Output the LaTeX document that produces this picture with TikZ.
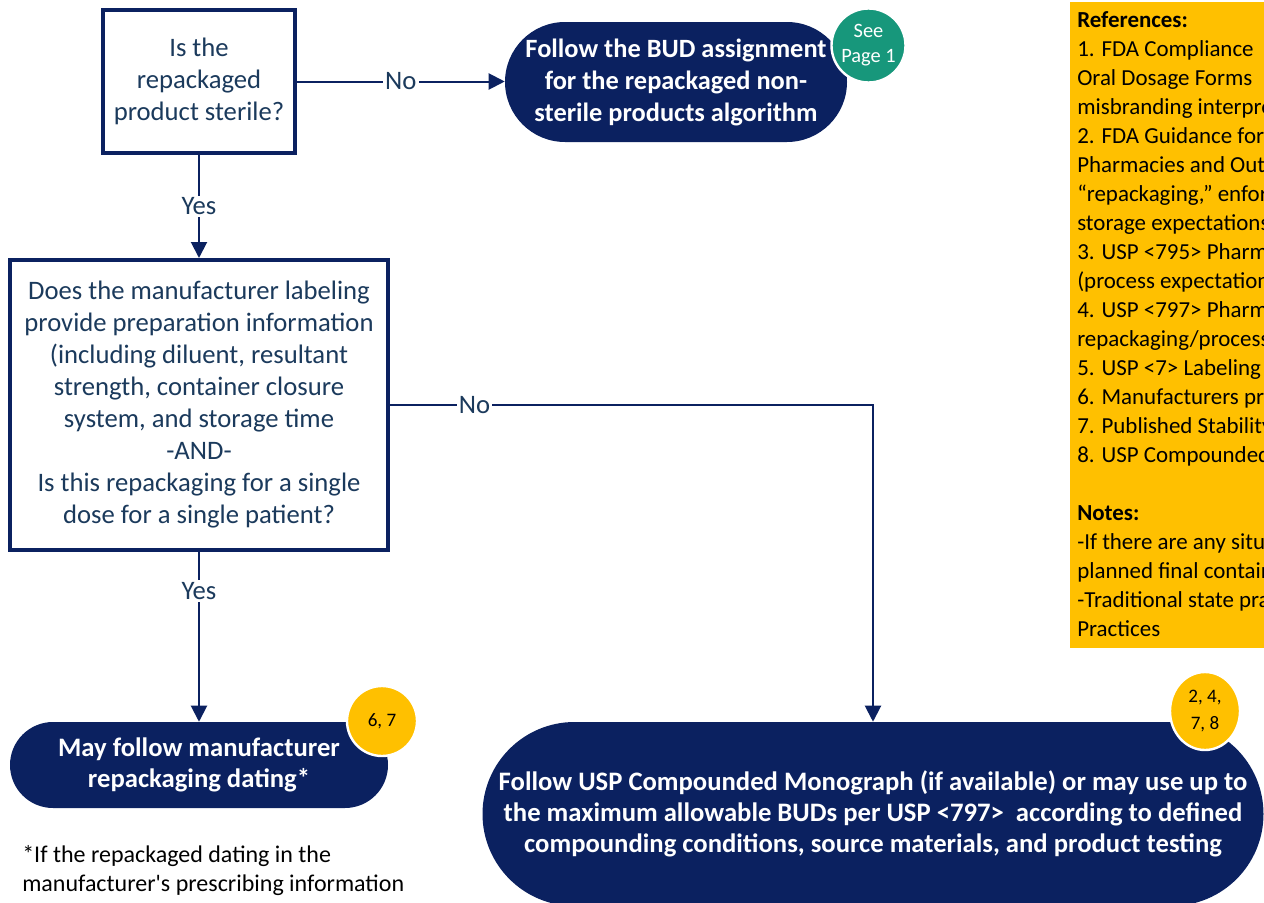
\documentclass[tikz,border=0pt]{standalone}
\usepackage{fontspec}
\setmainfont{Carlito}
\usetikzlibrary{arrows.meta,shapes.geometric}
\definecolor{navy}{HTML}{0B2160}
\definecolor{qtext}{HTML}{1B3A5C}
\definecolor{seegreen}{HTML}{17977B}
\definecolor{refyellow}{HTML}{FFC000}
\tikzset{
  question/.style={draw=navy, line width=3pt, fill=white, text=qtext, align=center, inner sep=0pt,
    font=\fontsize{20pt}{24pt}\selectfont},
  term/.style={fill=navy, text=white, align=center, inner sep=0pt},
  badge/.style={circle, draw=white, line width=1.8pt, inner sep=0pt, align=center},
  conn/.style={draw=navy, line width=1.5pt, -{Triangle[width=12pt,length=12pt]}},
  lbl/.style={fill=white, text=qtext, inner sep=1.5pt, font=\fontsize{20pt}{22pt}\selectfont}
}
\begin{document}
\begin{tikzpicture}[x=0.75pt,y=-0.75pt]
\useasboundingbox (0,0) rectangle (1264,903);
\clip (0,0) rectangle (1264,903);

% references panel
\fill[refyellow] (1070,2) rectangle (1270,648);
\node[anchor=north west, inner sep=0pt, align=left, text=black,
      font=\fontsize{17.2pt}{21.75pt}\selectfont] (refs) at (1077,11)
 {\textbf{References:}\\
  1. FDA Compliance\\
  Oral Dosage Forms\\
  misbranding interpretation\\
  2. FDA Guidance for\\
  Pharmacies and Outsourcing\\
  “repackaging,” enforcement\\
  storage expectations\\
  3. USP <795> Pharmaceutical\\
  (process expectations\\
  4. USP <797> Pharmaceutical\\
  repackaging/process\\
  5. USP <7> Labeling\\
  6. Manufacturers prescribing\\
  7. Published Stability\\
  8. USP Compounded\\
  ~\\
  \textbf{Notes:}\\
  -If there are any situations\\
  planned final container\\
  -Traditional state practice\\
  Practices};

% decision boxes
\node[question, minimum width=144pt, minimum height=107.25pt] (q1) at (199,81.5)
 {Is the\\repackaged\\product sterile?};
\node[question, minimum width=283.5pt, minimum height=217.5pt] (q2) at (199,405)
 {Does the manufacturer labeling\\provide preparation information\\(including diluent, resultant\\strength, container closure\\system, and storage time\\-AND-\\Is this repackaging for a single\\dose for a single patient?};

% terminals
\node[term, minimum width=256.5pt, minimum height=90pt, rounded corners=45pt,
      font=\bfseries\fontsize{19.8pt}{24pt}\selectfont] (t1) at (676,82)
 {Follow the BUD assignment\\for the repackaged non-\\sterile products algorithm};
\node[term, minimum width=283.5pt, minimum height=64.5pt, rounded corners=32.25pt,
      font=\bfseries\fontsize{20pt}{23.25pt}\selectfont] (t3) at (199,765)
 {May follow manufacturer\\repackaging dating*};
\node[term, minimum width=585.75pt, minimum height=138pt, rounded corners=69pt,
      font=\bfseries\fontsize{20pt}{23.25pt}\selectfont] (t4) at (873,814)
 {Follow USP Compounded Monograph (if available) or may use up to\\the maximum allowable BUDs per USP <797>~ according to defined\\compounding conditions, source materials, and product testing};

% badges
\node[badge, fill=seegreen, text=white, minimum size=55.5pt,
      font=\fontsize{15.3pt}{18.75pt}\selectfont] (g1) at (868.5,45.5) {See\\Page 1};
\node[badge, fill=refyellow, text=black, minimum size=52.5pt,
      font=\fontsize{14.3pt}{18pt}\selectfont] (y1) at (382,721) {6, 7};
\node[badge, ellipse, fill=refyellow, text=black, minimum width=52.5pt, minimum height=58.5pt,
      font=\fontsize{14.3pt}{20pt}\selectfont] (y2) at (1205,711) {2, 4,\\7, 8};

% footnote
\node[anchor=north west, inner sep=0pt, align=left, text=black,
      font=\fontsize{18pt}{21.75pt}\selectfont] (foot) at (22,845)
 {*If the repackaged dating in the\\manufacturer\textquotesingle s prescribing information};

% connectors
\draw[conn] (q1.east) -- node[lbl]{No} (q1.east -| t1.west);
\draw[conn] (q1.south) -- node[lbl]{Yes} (q2.north);
\draw[conn] (q2.south) -- node[lbl, pos=0.23]{Yes} (t3.north);
\draw[conn] (q2.east) -- node[lbl, pos=0.175]{No} (q2.east -| t4.north) -- (t4.north);
\end{tikzpicture}
\end{document}
